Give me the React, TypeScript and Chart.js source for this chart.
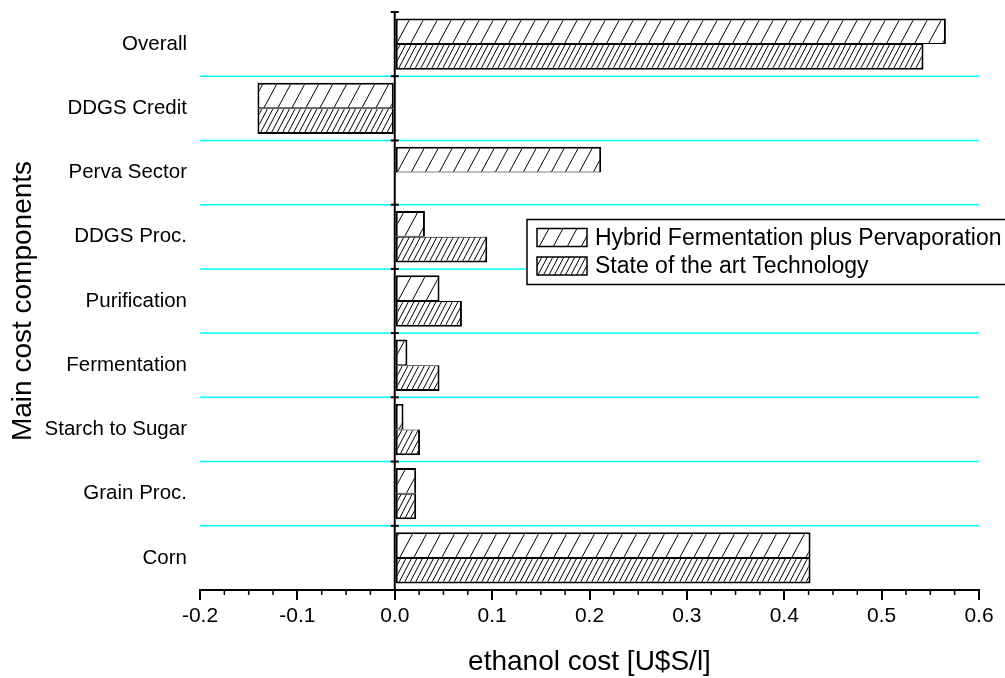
import React, { useEffect, useRef } from 'react';
import { Chart, registerables } from 'chart.js';

Chart.register(...registerables);

const categories = [
  'Overall',
  'DDGS Credit',
  'Perva Sector',
  'DDGS Proc.',
  'Purification',
  'Fermentation',
  'Starch to Sugar',
  'Grain Proc.',
  'Corn',
];
const hybridValues = [0.566, -0.141, 0.212, 0.031, 0.046, 0.013, 0.009, 0.022, 0.427];
const stateValues = [0.543, -0.141, null, 0.095, 0.069, 0.046, 0.026, 0.022, 0.427];
const seriesNames = ['Hybrid Fermentation plus Pervaporation', 'State of the art Technology'];
const xMin = -0.2;
const xMax = 0.6;
const xStep = 0.1;
const xMinorStep = 0.025;
const xTitle = 'ethanol cost [U$S/l]';
const yTitle = 'Main cost components';

const FONT = '"Liberation Sans", Arial, Helvetica, sans-serif';

function makeHatch(w: number, h: number, n: number): CanvasPattern {
  const c = document.createElement('canvas');
  c.width = w;
  c.height = h;
  const ctx = c.getContext('2d') as CanvasRenderingContext2D;
  ctx.fillStyle = '#ffffff';
  ctx.fillRect(0, 0, w, h);
  ctx.strokeStyle = '#000000';
  ctx.lineWidth = 1;
  for (let k = -n; k <= 2 * n; k++) {
    const x0 = (k * w) / n;
    ctx.beginPath();
    ctx.moveTo(x0, h);
    ctx.lineTo(x0 + w, 0);
    ctx.stroke();
  }
  return ctx.createPattern(c, 'repeat') as CanvasPattern;
}

export default function App() {
  const canvasRef = useRef<HTMLCanvasElement | null>(null);

  useEffect(() => {
    const canvas = canvasRef.current;
    if (!canvas) return;
    const hybridPattern = makeHatch(14, 26, 1);
    const statePattern = makeHatch(11, 21, 2);

    const decorPlugin = {
      id: 'decor',
      beforeDatasetsDraw(chart: any) {
        const { ctx, chartArea } = chart;
        const n = categories.length;
        const bandH = (chartArea.bottom - chartArea.top) / n;
        ctx.save();
        ctx.strokeStyle = '#00ffff';
        ctx.lineWidth = 1.5;
        for (let k = 1; k < n; k++) {
          const y = chartArea.top + k * bandH;
          ctx.beginPath();
          ctx.moveTo(chartArea.left, y);
          ctx.lineTo(chartArea.right, y);
          ctx.stroke();
        }
        ctx.restore();
      },
      afterDatasetsDraw(chart: any) {
        const { ctx, chartArea } = chart;
        const xs = chart.scales.x;
        const n = categories.length;
        const bandH = (chartArea.bottom - chartArea.top) / n;
        const x0 = xs.getPixelForValue(0);
        ctx.save();
        ctx.strokeStyle = '#000';
        ctx.lineWidth = 2;
        ctx.beginPath();
        ctx.moveTo(x0, chartArea.top);
        ctx.lineTo(x0, chartArea.bottom);
        ctx.stroke();
        for (let k = 0; k <= n; k++) {
          const y = chartArea.top + k * bandH;
          ctx.beginPath();
          ctx.moveTo(x0 - 4, y);
          ctx.lineTo(x0 + 4, y);
          ctx.stroke();
        }
        // minor ticks
        ctx.lineWidth = 1.5;
        const count = Math.round((xMax - xMin) / xMinorStep);
        const perMajor = Math.round(xStep / xMinorStep);
        for (let i = 0; i <= count; i++) {
          if (i % perMajor === 0) continue;
          const v = xMin + i * xMinorStep;
          const px = xs.getPixelForValue(v);
          ctx.beginPath();
          ctx.moveTo(px, chartArea.bottom);
          ctx.lineTo(px, chartArea.bottom + 5);
          ctx.stroke();
        }
        ctx.restore();
      },
      afterDraw(chart: any) {
        const { ctx } = chart;
        ctx.save();
        // legend box
        ctx.fillStyle = '#fff';
        ctx.fillRect(527, 219.5, 500, 65);
        ctx.strokeStyle = '#000';
        ctx.lineWidth = 1.5;
        ctx.strokeRect(527, 219.5, 500, 65);
        const pats = [hybridPattern, statePattern];
        const ys = [237.5, 266];
        for (let i = 0; i < 2; i++) {
          ctx.fillStyle = pats[i];
          ctx.fillRect(537, ys[i] - 9, 50, 18);
          ctx.strokeStyle = '#000';
          ctx.lineWidth = 1.5;
          ctx.strokeRect(537, ys[i] - 9, 50, 18);
          ctx.fillStyle = '#000';
          ctx.font = `23px ${FONT}`;
          ctx.textBaseline = 'middle';
          ctx.textAlign = 'left';
          ctx.fillText(seriesNames[i], 595, ys[i] + 1);
        }
        ctx.restore();
      },
    };

    const chart = new Chart(canvas, {
      type: 'bar',
      data: {
        labels: categories,
        datasets: [
          {
            label: seriesNames[0],
            data: hybridValues as any,
            backgroundColor: hybridPattern as any,
            borderColor: '#000',
            borderWidth: { top: 2, bottom: 1, left: 2, right: 2 } as any,
            borderSkipped: false,
            categoryPercentage: 0.8,
            barPercentage: 1,
          },
          {
            label: seriesNames[1],
            data: stateValues as any,
            backgroundColor: statePattern as any,
            borderColor: '#000',
            borderWidth: { top: 1, bottom: 2, left: 2, right: 2 } as any,
            borderSkipped: false,
            categoryPercentage: 0.8,
            barPercentage: 1,
          },
        ],
      },
      options: {
        animation: false,
        responsive: false,
        indexAxis: 'y',
        layout: { padding: { top: 12, right: 26, left: 0, bottom: 0 } },
        plugins: {
          legend: { display: false },
          tooltip: { enabled: false },
        },
        scales: {
          x: {
            type: 'linear',
            min: xMin,
            max: xMax,
            position: 'bottom',
            afterFit: (s: any) => {
              s.height = 88;
              s.paddingLeft = 0;
              s.paddingRight = 0;
            },
            ticks: {
              stepSize: xStep,
              autoSkip: false,
              maxRotation: 0,
              color: '#000',
              padding: 4,
              font: { family: FONT, size: 21 },
              callback: (v: any) => (Math.abs(Number(v)) < 1e-9 ? 0 : Number(v)).toFixed(1),
            },
            grid: {
              display: true,
              drawOnChartArea: false,
              drawTicks: true,
              tickLength: 10,
              color: '#000',
              lineWidth: 2,
            },
            border: { display: true, color: '#000', width: 2 },
            title: {
              display: true,
              text: xTitle,
              color: '#000',
              font: { family: FONT, size: 28, lineHeight: 1 },
              padding: { top: 0, bottom: 2 },
            },
          },
          y: {
            type: 'category',
            afterFit: (s: any) => {
              s.width = 200;
              s.paddingTop = 0;
              s.paddingBottom = 0;
            },
            ticks: {
              color: '#000',
              padding: 13,
              font: { family: FONT, size: 20.5 },
            },
            grid: { display: false, drawTicks: false },
            border: { display: false },
            title: {
              display: true,
              text: yTitle,
              color: '#000',
              font: { family: FONT, size: 28, lineHeight: 1 },
              padding: { top: 9, bottom: 0 },
            },
          },
        },
      } as any,
      plugins: [decorPlugin],
    });

    return () => {
      chart.destroy();
    };
  }, []);

  return (
    <div style={{ position: 'absolute', left: 0, top: 0, width: 1005, height: 678, background: '#fff' }}>
      <canvas ref={canvasRef} width={1005} height={678} style={{ display: 'block', width: 1005, height: 678 }} />
    </div>
  );
}
